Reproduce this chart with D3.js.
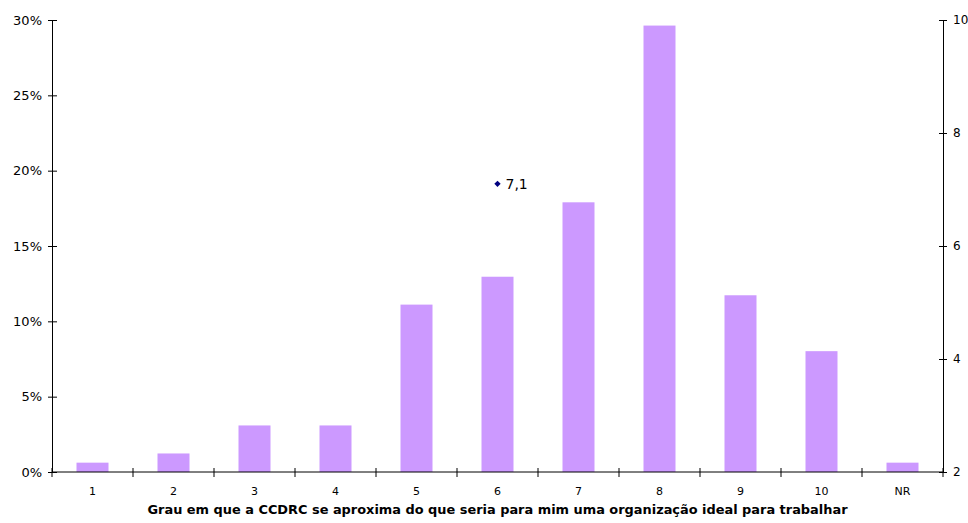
<!DOCTYPE html>
<html lang="pt">
<head>
<meta charset="UTF-8">
<title>Grau CCDRC</title>
<style>
    body { margin: 0; padding: 0; background: #fff; overflow: hidden; }
    svg { display: block; }
    text { font-family: "DejaVu Sans", sans-serif; fill: #000; }
</style>
</head>
<body>
<script src="https://d3js.org/d3.v7.min.js"></script>
<script>
    const categories = ['1', '2', '3', '4', '5', '6', '7', '8', '9', '10', 'NR'];
    const percentages = [0.62, 1.23, 3.09, 3.09, 11.11, 12.96, 17.90, 29.63, 11.73, 8.02, 0.62];
    const meanValue = 7.1;
    const meanLabel = '7,1';
    const meanCategory = '6';
    const leftTicks = [0, 5, 10, 15, 20, 25, 30];
    const rightTicks = [2, 4, 6, 8, 10];
    const xTitle = 'Grau em que a CCDRC se aproxima do que seria para mim uma organização ideal para trabalhar';

    const width = 968, height = 523;
    const margin = { left: 52, right: 25, top: 20, bottom: 51 };
    const plotW = width - margin.left - margin.right;
    const plotH = height - margin.top - margin.bottom;

    const svg = d3.select('body').append('svg')
        .attr('width', width)
        .attr('height', height);

    const g = svg.append('g')
        .attr('transform', `translate(${margin.left},${margin.top})`);

    const xTicks = d3.scaleBand().domain(categories).range([0, plotW]);
    const yLeft = d3.scaleLinear().domain([0, 30]).range([plotH, 0]);
    const yRight = d3.scaleLinear().domain([2, 10]).range([plotH, 0]);

    // bars
    g.selectAll('rect.bar')
        .data(percentages)
        .enter()
        .append('rect')
        .attr('class', 'bar')
        .attr('x', (d, i) => xTicks(categories[i]) + xTicks.bandwidth() / 2 - 16)
        .attr('width', 32)
        .attr('y', d => yLeft(d))
        .attr('height', d => plotH - yLeft(d))
        .attr('fill', '#CC99FF');

    // left axis
    const leftAxis = g.append('g')
        .call(d3.axisLeft(yLeft).tickValues(leftTicks).tickFormat(d => d + '%').tickSize(4).tickSizeOuter(0));
    leftAxis.selectAll('.tick line').attr('x1', 5).attr('x2', -4);
    leftAxis.selectAll('.tick text').attr('x', -10).style('font-size', '13px');

    // right axis
    const rightAxis = g.append('g')
        .attr('transform', `translate(${plotW},0)`)
        .call(d3.axisRight(yRight).tickValues(rightTicks).tickSize(4).tickSizeOuter(0));
    rightAxis.selectAll('.tick line').attr('x1', -4).attr('x2', 4);
    rightAxis.selectAll('.tick text').attr('x', 10).style('font-size', '12px');

    // bottom axis with ticks between categories
    const bottom = g.append('g').attr('transform', `translate(0,${plotH})`);
    bottom.append('line')
        .attr('x1', 0).attr('x2', plotW)
        .attr('stroke', '#000');
    const bounds = categories.map(c => xTicks(c)).concat([plotW]);
    bottom.selectAll('line.tk')
        .data(bounds)
        .enter()
        .append('line')
        .attr('class', 'tk')
        .attr('x1', d => d).attr('x2', d => d)
        .attr('y1', -4).attr('y2', 5)
        .attr('stroke', '#000');
    bottom.selectAll('text.lbl')
        .data(categories)
        .enter()
        .append('text')
        .attr('class', 'lbl')
        .attr('x', d => xTicks(d) + xTicks.bandwidth() / 2)
        .attr('y', 23)
        .attr('text-anchor', 'middle')
        .style('font-size', '11px')
        .text(d => d);

    g.selectAll('.domain').attr('stroke', '#000');
    g.selectAll('.tick line').attr('stroke', '#000');

    // mean marker
    const mx = xTicks(meanCategory) + xTicks.bandwidth() / 2;
    const my = yRight(meanValue);
    g.append('path')
        .attr('d', d3.symbol().type(d3.symbolSquare).size(20)())
        .attr('transform', `translate(${mx},${my}) rotate(45)`)
        .attr('fill', '#000080');
    g.append('text')
        .attr('x', mx + 8)
        .attr('y', my + 5)
        .style('font-size', '14px')
        .text(meanLabel);

    // x title
    svg.append('text')
        .attr('x', margin.left + plotW / 2)
        .attr('y', 514)
        .attr('text-anchor', 'middle')
        .attr('textLength', 700)
        .attr('lengthAdjust', 'spacingAndGlyphs')
        .style('font-size', '13px')
        .style('font-weight', 'bold')
        .text(xTitle);
</script>
</body>
</html>
